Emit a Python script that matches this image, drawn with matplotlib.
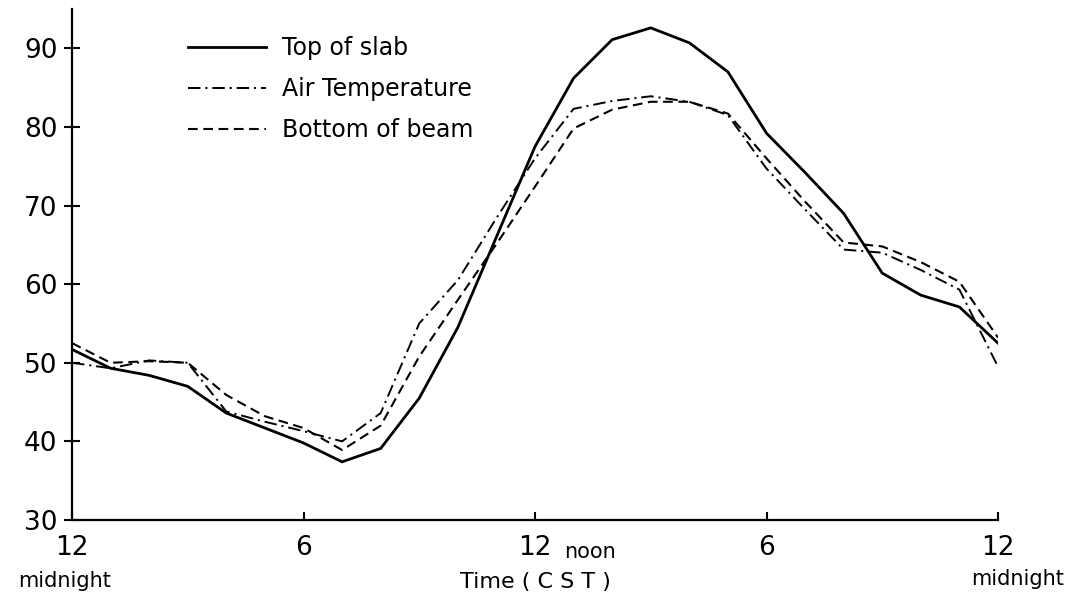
import matplotlib
matplotlib.use("Agg")
import matplotlib.pyplot as plt
import matplotlib.transforms as mtransforms

# Hourly temperatures (deg F) over one day, midnight to midnight
hours = list(range(25))
top_of_slab = [51.7, 49.3, 48.4, 47.0, 43.6, 41.7, 39.8, 37.4, 39.1, 45.5,
               54.5, 66.0, 77.5, 86.2, 91.1, 92.6, 90.7, 87.0, 79.2, 74.2,
               69.0, 61.4, 58.6, 57.1, 52.5]
air_temperature = [50.0, 49.3, 50.3, 50.0, 43.8, 42.5, 41.3, 40.0, 43.6, 55.0,
                   60.5, 68.4, 76.0, 82.3, 83.3, 83.9, 83.2, 81.5, 74.7, 69.5,
                   64.4, 64.0, 61.8, 59.3, 49.5]
bottom_of_beam = [52.5, 50.0, 50.2, 50.0, 45.9, 43.2, 41.7, 38.9, 42.0, 50.8,
                  58.0, 65.1, 72.4, 79.8, 82.2, 83.2, 83.2, 81.7, 76.0, 70.5,
                  65.3, 64.8, 62.8, 60.3, 53.2]

series_labels = ["Top of slab", "Air Temperature", "Bottom of beam"]
x_tick_hours = [0, 6, 12, 18, 24]
x_tick_labels = ["12", "6", "12", "6", "12"]
y_ticks = [30, 40, 50, 60, 70, 80, 90]

plt.rcParams["font.family"] = ["DejaVu Sans"]
plt.rcParams["lines.scale_dashes"] = False

W, H = 1081, 606
fig = plt.figure(figsize=(W / 100, H / 100), dpi=100)
ax = fig.add_axes([72 / W, 1 - 520 / H, (998 - 72) / W, (520 - 9) / H])

ax.plot(hours, top_of_slab, color="black", lw=2.0, ls="-",
        label=series_labels[0], solid_joinstyle="miter")
ax.plot(hours, air_temperature, color="black", lw=1.4,
        dashes=(9, 3.5, 1.5, 3.5), label=series_labels[1])
ax.plot(hours, bottom_of_beam, color="black", lw=1.5,
        dashes=(7, 4), label=series_labels[2])

ax.set_xlim(0, 24)
ax.set_ylim(30, 95)

for side in ("top", "right"):
    ax.spines[side].set_visible(False)
for side in ("left", "bottom"):
    ax.spines[side].set_linewidth(1.6)

ax.set_yticks(y_ticks)
ax.tick_params(axis="y", direction="inout", length=11, width=1.5,
               labelsize=19, pad=5)
ax.set_xticks(x_tick_hours, x_tick_labels)
ax.tick_params(axis="x", direction="in", length=6, width=1.5,
               labelsize=19, pad=11)

# secondary words beneath / beside the hour labels
blend = mtransforms.blended_transform_factory(ax.transData, fig.transFigure)
ax.text(-0.2, 1 - 581 / H, "midnight", transform=blend, ha="center",
        va="center", fontsize=15)
ax.text(24.5, 1 - 579 / H, "midnight", transform=blend, ha="center",
        va="center", fontsize=15)
ax.text(12.75, 1 - 558 / H, "noon", transform=blend, ha="left",
        va="baseline", fontsize=15)
ax.text(12, 1 - 582 / H, "Time ( C S T )", transform=blend, ha="center",
        va="center", fontsize=16)

ax.legend(loc="upper left", bbox_to_anchor=(188 / W, 1 - 36 / H),
          bbox_transform=fig.transFigure, frameon=False, fontsize=17,
          handlelength=3.3, handletextpad=0.7, labelspacing=0.72,
          borderpad=0, borderaxespad=0)

fig.savefig("out.png", dpi=100)
